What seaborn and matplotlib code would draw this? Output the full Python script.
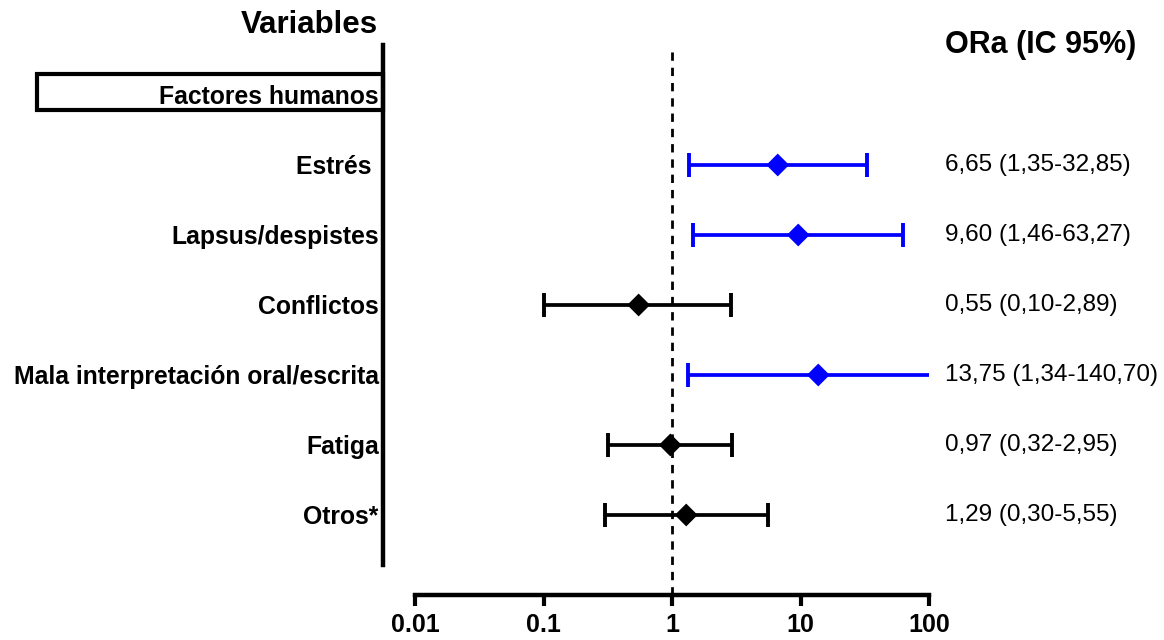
import numpy as np
import pandas as pd
import seaborn as sns
import matplotlib
matplotlib.use('Agg')
import matplotlib.pyplot as plt
from matplotlib.patches import Rectangle
from matplotlib.transforms import blended_transform_factory

# datos del forest plot
variables = ['Estrés ', 'Lapsus/despistes', 'Conflictos',
             'Mala interpretación oral/escrita', 'Fatiga', 'Otros*']
ora = [6.65, 9.60, 0.55, 13.75, 0.97, 1.29]
ic_low = [1.35, 1.46, 0.10, 1.34, 0.32, 0.30]
ic_high = [32.85, 63.27, 2.89, 140.70, 2.95, 5.55]
significativo = [True, True, False, True, False, False]
etiquetas_or = ['6,65 (1,35-32,85)', '9,60 (1,46-63,27)', '0,55 (0,10-2,89)',
                '13,75 (1,34-140,70)', '0,97 (0,32-2,95)', '1,29 (0,30-5,55)']
grupo = 'Factores humanos'
ticks_x = [0.01, 0.1, 1, 10, 100]
ticks_x_lab = ['0.01', '0.1', '1', '10', '100']

sns.set_style('white')
plt.rcParams['font.family'] = ['Liberation Sans', 'DejaVu Sans']
plt.rcParams['text.color'] = 'black'
plt.rcParams['xtick.color'] = 'black'
plt.rcParams['ytick.color'] = 'black'

df = pd.DataFrame({'var': variables, 'ora': ora, 'lo': ic_low, 'hi': ic_high,
                   'sig': np.where(significativo, 'si', 'no')})
df['fila'] = np.arange(1, len(df) + 1)
colores = {'si': '#0000ff', 'no': '#000000'}

fig = plt.figure(figsize=(11.64, 6.4), dpi=100)
ax = fig.add_axes([383 / 1164, 1 - 595 / 640, 546 / 1164, 550 / 640])

# barras de IC
for _, r in df.iterrows():
    ax.errorbar(r['ora'], r['fila'],
                xerr=[[r['ora'] - r['lo']], [r['hi'] - r['ora']]],
                fmt='none', ecolor=colores[r['sig']], elinewidth=2.7,
                capsize=8.5, capthick=2.8, zorder=2)

sns.scatterplot(data=df, x='ora', y='fila', hue='sig', palette=colores,
                marker='D', s=135, linewidth=0, legend=False, ax=ax, zorder=3)

ax.axvline(1, color='black', linestyle=(0, (3, 2.5)), linewidth=2, zorder=1)

ax.set_xscale('log')
ax.set_xlim(10 ** (-2 - 32 / 128.5), 100)
ax.set_ylim(7.143, -0.714)
ax.set_xticks(ticks_x)
ax.set_xticklabels(ticks_x_lab, fontweight='bold', fontsize=18)
ax.minorticks_off()
ax.set_yticks([0] + list(df['fila']))
ax.set_yticklabels([grupo] + variables, fontweight='bold', fontsize=17.8)
ax.tick_params(axis='y', length=0, pad=3)
ax.tick_params(axis='x', direction='out', length=8, width=3, pad=5,
               bottom=True, color='black')
ax.set_xlabel('')
ax.set_ylabel('')

for s in ['top', 'right']:
    ax.spines[s].set_visible(False)
ax.spines['left'].set_linewidth(3.2)
ax.spines['bottom'].set_linewidth(3.2)
ax.spines['left'].set_bounds(-0.714, 6.714)
ax.spines['bottom'].set_bounds(0.01, 100)
ax.spines['left'].set_color('black')
ax.spines['bottom'].set_color('black')

# textos de la derecha
tr = blended_transform_factory(ax.transAxes, ax.transData)
for fila, t in zip(df['fila'], etiquetas_or):
    ax.text(1.029, fila, t, transform=tr, ha='left', va='center',
            fontsize=17.5, clip_on=False)
ax.text(1.029, -0.72, 'ORa (IC 95%)', transform=tr, ha='left', va='center',
        fontsize=22, fontweight='bold', clip_on=False)
ax.text(-0.01, -1.0, 'Variables', transform=tr, ha='right', va='center',
        fontsize=22.5, fontweight='bold', clip_on=False)

# recuadro del grupo
fig.patches.append(Rectangle((37 / 1164, 1 - 110 / 640), (383 - 37) / 1164, 36 / 640,
                             transform=fig.transFigure, fill=False,
                             edgecolor='black', linewidth=3))

fig.savefig('out.png', dpi=100)
